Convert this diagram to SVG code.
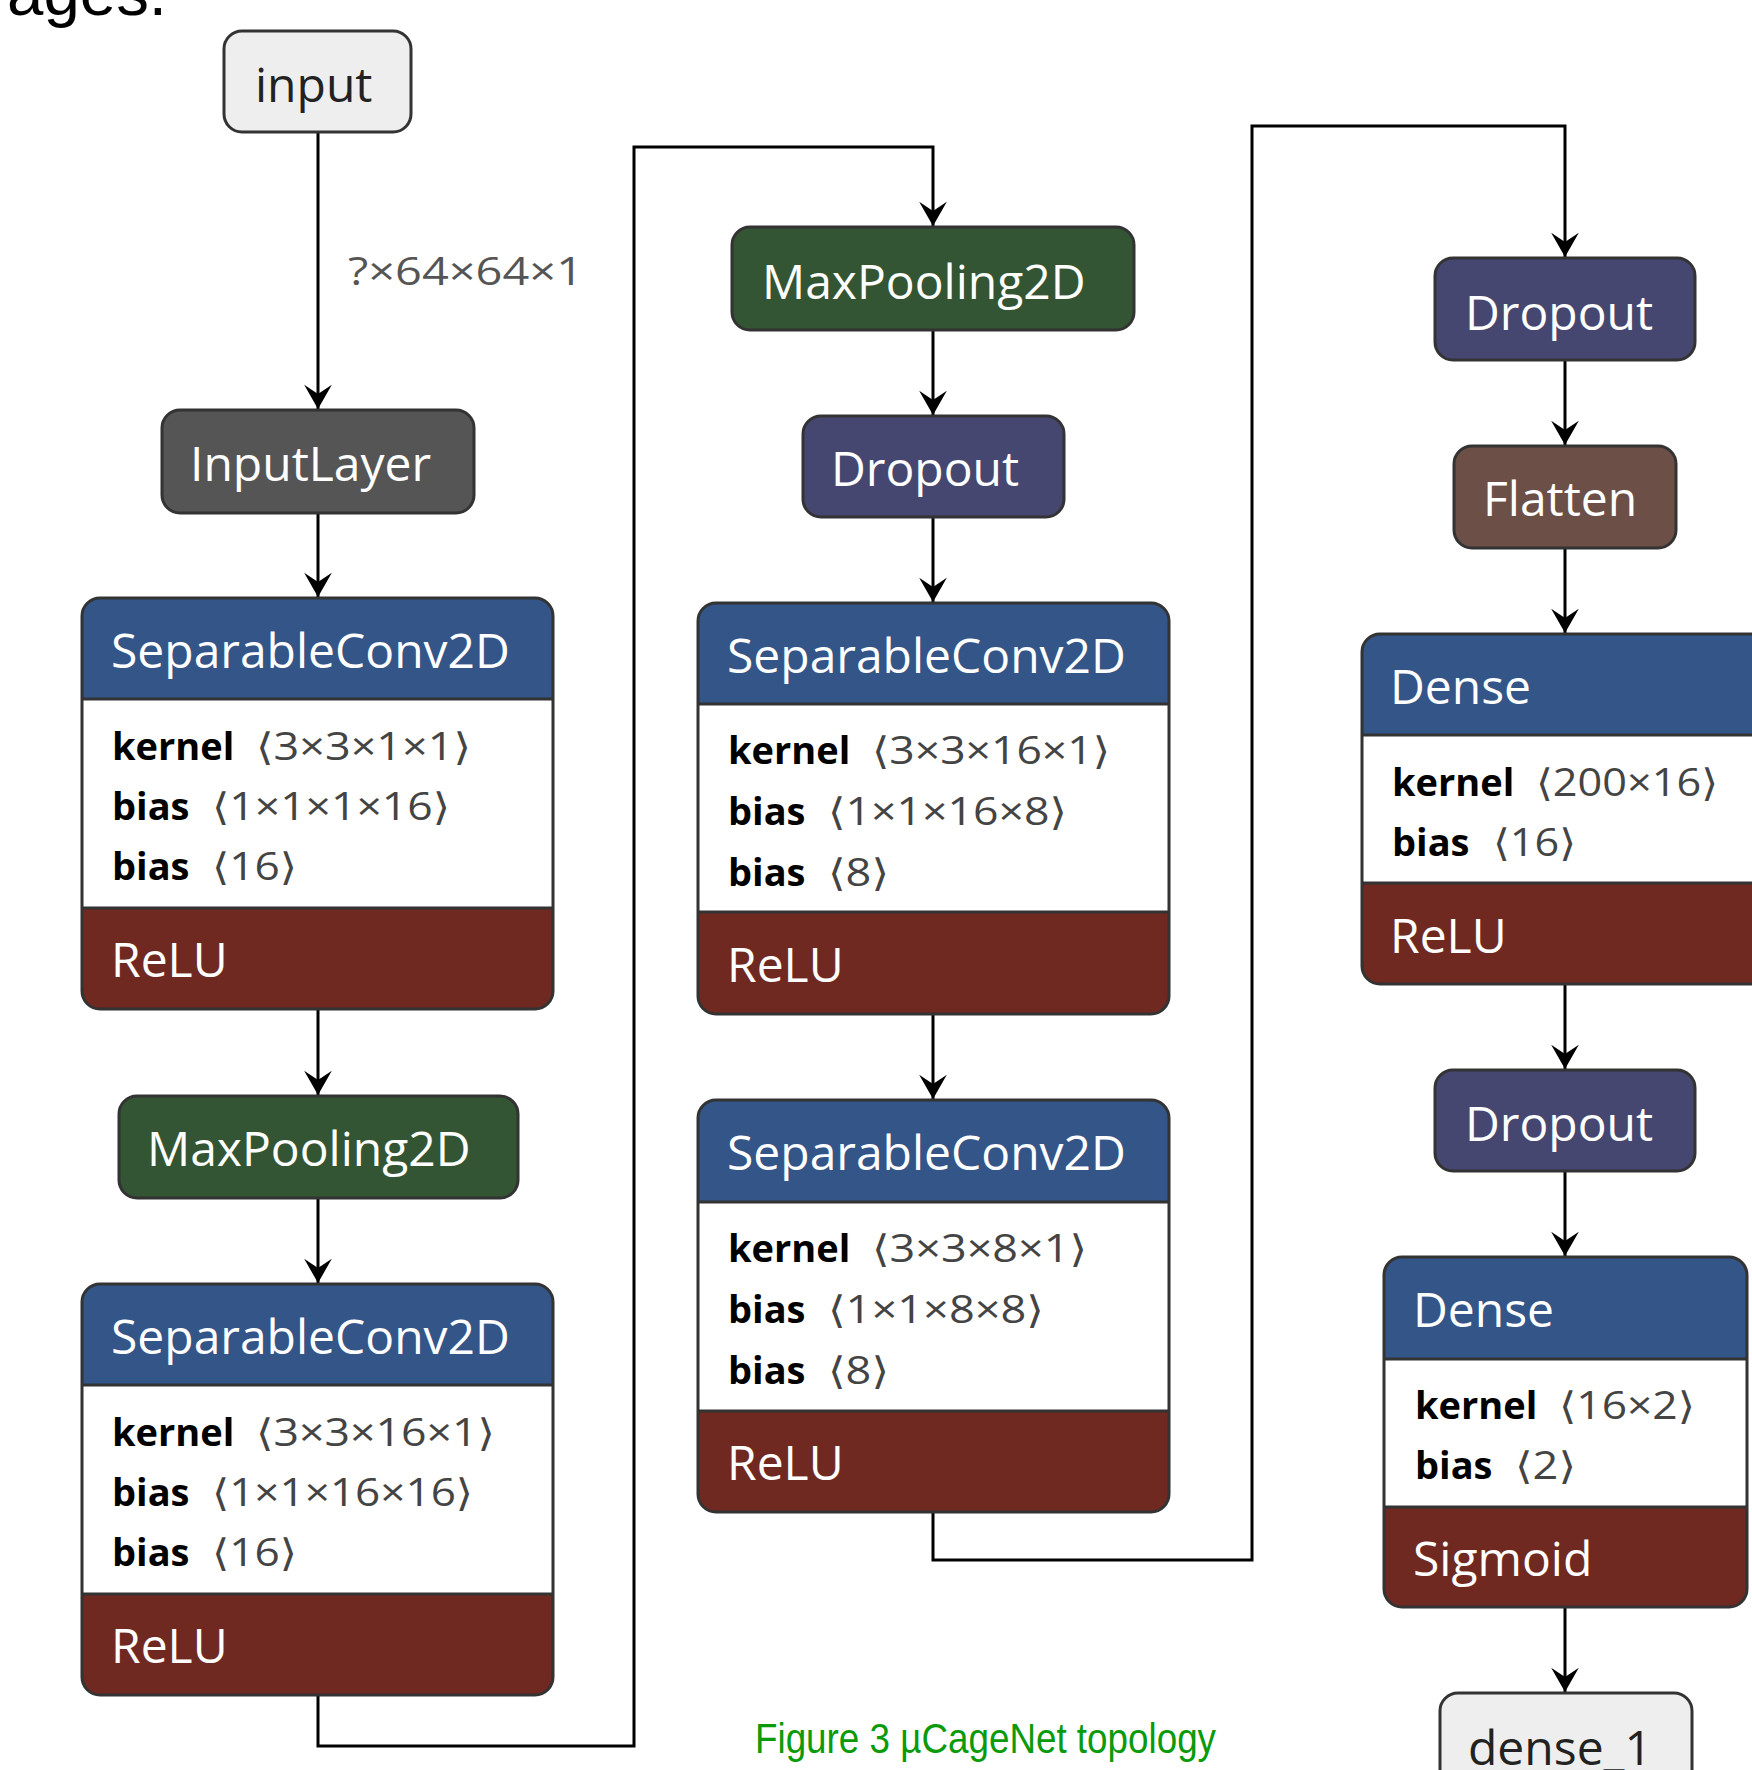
<svg xmlns="http://www.w3.org/2000/svg" width="1752" height="1770" viewBox="0 0 1752 1770">
<defs>
<marker id="arr" markerUnits="userSpaceOnUse" markerWidth="30" markerHeight="30" viewBox="-22 -13 24 26" refX="0" refY="0" orient="auto">
<path d="M-21,-12 L0,0 L-21,12 L-13,0 Z" fill="#000"/>
</marker>
<style>
.edge{fill:none;stroke:#000;stroke-width:3}
.box{stroke:#333;stroke-width:3}
.outline{fill:none;stroke:#333;stroke-width:3}
.sep{stroke:#333;stroke-width:3}
.t{font-family:"Open Sans","Noto Sans","DejaVu Sans",sans-serif;font-size:48px;fill:#fff}
.tdark{font-family:"Open Sans","Noto Sans","DejaVu Sans",sans-serif;font-size:48px;fill:#222}
.an{font-family:"Open Sans","Noto Sans","DejaVu Sans",sans-serif;font-size:38px;font-weight:bold;fill:#000}
.av{font-family:"Open Sans","Noto Sans","DejaVu Sans",sans-serif;font-size:38px;fill:#444}
.lbl{font-family:"Open Sans","Noto Sans","DejaVu Sans",sans-serif;font-size:38px;fill:#555}
.layer{fill:#335588}
.act{fill:#702921}
.white{fill:#fff}
</style>
</defs>
<rect width="1752" height="1770" fill="#fff"/>
<text x="7" y="15" font-family="Liberation Sans, Arial, sans-serif" font-size="64" fill="#000" textLength="160" lengthAdjust="spacingAndGlyphs">ages.</text>

<g id="connectors">
<path class="edge" d="M318,132 V409" marker-end="url(#arr)"/>
<path class="edge" d="M318,513 V597" marker-end="url(#arr)"/>
<path class="edge" d="M318,1009 V1095" marker-end="url(#arr)"/>
<path class="edge" d="M318,1198 V1283" marker-end="url(#arr)"/>
<path class="edge" d="M318,1695 V1746 H634 V147 H933 V226" marker-end="url(#arr)"/>
<path class="edge" d="M933,330 V415" marker-end="url(#arr)"/>
<path class="edge" d="M933,517 V602" marker-end="url(#arr)"/>
<path class="edge" d="M933,1014 V1099" marker-end="url(#arr)"/>
<path class="edge" d="M933,1512 V1560 H1252 V126 H1565 V257" marker-end="url(#arr)"/>
<path class="edge" d="M1565,360 V445" marker-end="url(#arr)"/>
<path class="edge" d="M1565,548 V633" marker-end="url(#arr)"/>
<path class="edge" d="M1565,984 V1069" marker-end="url(#arr)"/>
<path class="edge" d="M1565,1171 V1256" marker-end="url(#arr)"/>
<path class="edge" d="M1565,1607 V1692" marker-end="url(#arr)"/>
<text class="lbl" x="348" y="285" textLength="235" lengthAdjust="spacingAndGlyphs">?×64×64×1</text>
</g>

<g id="node-input">
<rect class="box" x="224" y="31" width="187" height="101" rx="18" fill="#eeeeee"/>
<text class="tdark" x="255" y="102">input</text>
</g>

<g id="node-inputlayer">
<rect class="box" x="162" y="410" width="312" height="103" rx="18" fill="#555555"/>
<text class="t" x="190" y="481">InputLayer</text>
</g>

<g id="node-sepconv1">
<path class="layer" d="M82,699 V616 A18,18 0 0 1 100,598 H535 A18,18 0 0 1 553,616 V699 Z"/>
<rect class="white" x="82" y="699" width="471" height="209"/>
<path class="act" d="M82,908 H553 V991 A18,18 0 0 1 535,1009 H100 A18,18 0 0 1 82,991 Z"/>
<line class="sep" x1="82" y1="699" x2="553" y2="699"/>
<line class="sep" x1="82" y1="908" x2="553" y2="908"/>
<rect class="outline" x="82" y="598" width="471" height="411" rx="18"/>
<text class="t" x="111" y="668">SeparableConv2D</text>
<text class="an" x="112" y="760">kernel</text>
<text class="av" x="256" y="760" textLength="215" lengthAdjust="spacingAndGlyphs">⟨3×3×1×1⟩</text>
<text class="an" x="112" y="820">bias</text>
<text class="av" x="212" y="820" textLength="238" lengthAdjust="spacingAndGlyphs">⟨1×1×1×16⟩</text>
<text class="an" x="112" y="880">bias</text>
<text class="av" x="212" y="880" textLength="85" lengthAdjust="spacingAndGlyphs">⟨16⟩</text>
<text class="t" x="111" y="977">ReLU</text>
</g>

<g id="node-maxpool1">
<rect class="box" x="119" y="1096" width="399" height="102" rx="18" fill="#335533"/>
<text class="t" x="147" y="1166">MaxPooling2D</text>
</g>

<g id="node-sepconv2">
<path class="layer" d="M82,1385 V1302 A18,18 0 0 1 100,1284 H535 A18,18 0 0 1 553,1302 V1385 Z"/>
<rect class="white" x="82" y="1385" width="471" height="209"/>
<path class="act" d="M82,1594 H553 V1677 A18,18 0 0 1 535,1695 H100 A18,18 0 0 1 82,1677 Z"/>
<line class="sep" x1="82" y1="1385" x2="553" y2="1385"/>
<line class="sep" x1="82" y1="1594" x2="553" y2="1594"/>
<rect class="outline" x="82" y="1284" width="471" height="411" rx="18"/>
<text class="t" x="111" y="1354">SeparableConv2D</text>
<text class="an" x="112" y="1446">kernel</text>
<text class="av" x="256" y="1446" textLength="239" lengthAdjust="spacingAndGlyphs">⟨3×3×16×1⟩</text>
<text class="an" x="112" y="1506">bias</text>
<text class="av" x="212" y="1506" textLength="261" lengthAdjust="spacingAndGlyphs">⟨1×1×16×16⟩</text>
<text class="an" x="112" y="1566">bias</text>
<text class="av" x="212" y="1566" textLength="85" lengthAdjust="spacingAndGlyphs">⟨16⟩</text>
<text class="t" x="111" y="1663">ReLU</text>
</g>

<g id="node-maxpool2">
<rect class="box" x="732" y="227" width="402" height="103" rx="18" fill="#335533"/>
<text class="t" x="762" y="299">MaxPooling2D</text>
</g>

<g id="node-dropout1">
<rect class="box" x="803" y="416" width="261" height="101" rx="18" fill="#454770"/>
<text class="t" x="831" y="486">Dropout</text>
</g>

<g id="node-sepconv3">
<path class="layer" d="M698,704 V621 A18,18 0 0 1 716,603 H1151 A18,18 0 0 1 1169,621 V704 Z"/>
<rect class="white" x="698" y="704" width="471" height="208"/>
<path class="act" d="M698,912 H1169 V996 A18,18 0 0 1 1151,1014 H716 A18,18 0 0 1 698,996 Z"/>
<line class="sep" x1="698" y1="704" x2="1169" y2="704"/>
<line class="sep" x1="698" y1="912" x2="1169" y2="912"/>
<rect class="outline" x="698" y="603" width="471" height="411" rx="18"/>
<text class="t" x="727" y="673">SeparableConv2D</text>
<text class="an" x="728" y="764">kernel</text>
<text class="av" x="872" y="764" textLength="238" lengthAdjust="spacingAndGlyphs">⟨3×3×16×1⟩</text>
<text class="an" x="728" y="825">bias</text>
<text class="av" x="828" y="825" textLength="239" lengthAdjust="spacingAndGlyphs">⟨1×1×16×8⟩</text>
<text class="an" x="728" y="886">bias</text>
<text class="av" x="828" y="886" textLength="61" lengthAdjust="spacingAndGlyphs">⟨8⟩</text>
<text class="t" x="727" y="982">ReLU</text>
</g>

<g id="node-sepconv4">
<path class="layer" d="M698,1202 V1118 A18,18 0 0 1 716,1100 H1151 A18,18 0 0 1 1169,1118 V1202 Z"/>
<rect class="white" x="698" y="1202" width="471" height="209"/>
<path class="act" d="M698,1411 H1169 V1494 A18,18 0 0 1 1151,1512 H716 A18,18 0 0 1 698,1494 Z"/>
<line class="sep" x1="698" y1="1202" x2="1169" y2="1202"/>
<line class="sep" x1="698" y1="1411" x2="1169" y2="1411"/>
<rect class="outline" x="698" y="1100" width="471" height="412" rx="18"/>
<text class="t" x="727" y="1170">SeparableConv2D</text>
<text class="an" x="728" y="1262">kernel</text>
<text class="av" x="872" y="1262" textLength="215" lengthAdjust="spacingAndGlyphs">⟨3×3×8×1⟩</text>
<text class="an" x="728" y="1323">bias</text>
<text class="av" x="828" y="1323" textLength="216" lengthAdjust="spacingAndGlyphs">⟨1×1×8×8⟩</text>
<text class="an" x="728" y="1384">bias</text>
<text class="av" x="828" y="1384" textLength="61" lengthAdjust="spacingAndGlyphs">⟨8⟩</text>
<text class="t" x="727" y="1480">ReLU</text>
</g>

<g id="node-dropout2">
<rect class="box" x="1435" y="258" width="260" height="102" rx="18" fill="#454770"/>
<text class="t" x="1465" y="330">Dropout</text>
</g>

<g id="node-flatten">
<rect class="box" x="1454" y="446" width="222" height="102" rx="18" fill="#6c4f47"/>
<text class="t" x="1483" y="516">Flatten</text>
</g>

<g id="node-dense1">
<path class="layer" d="M1362,735 V652 A18,18 0 0 1 1380,634 H1750 A18,18 0 0 1 1768,652 V735 Z"/>
<rect class="white" x="1362" y="735" width="406" height="148"/>
<path class="act" d="M1362,883 H1768 V966 A18,18 0 0 1 1750,984 H1380 A18,18 0 0 1 1362,966 Z"/>
<line class="sep" x1="1362" y1="735" x2="1768" y2="735"/>
<line class="sep" x1="1362" y1="883" x2="1768" y2="883"/>
<rect class="outline" x="1362" y="634" width="406" height="350" rx="18"/>
<text class="t" x="1390" y="704">Dense</text>
<text class="an" x="1392" y="796">kernel</text>
<text class="av" x="1536" y="796" textLength="182" lengthAdjust="spacingAndGlyphs">⟨200×16⟩</text>
<text class="an" x="1392" y="856">bias</text>
<text class="av" x="1493" y="856" textLength="83" lengthAdjust="spacingAndGlyphs">⟨16⟩</text>
<text class="t" x="1390" y="953">ReLU</text>
</g>

<g id="node-dropout3">
<rect class="box" x="1435" y="1070" width="260" height="101" rx="18" fill="#454770"/>
<text class="t" x="1465" y="1141">Dropout</text>
</g>

<g id="node-dense2">
<path class="layer" d="M1384,1359 V1275 A18,18 0 0 1 1402,1257 H1729 A18,18 0 0 1 1747,1275 V1359 Z"/>
<rect class="white" x="1384" y="1359" width="363" height="148"/>
<path class="act" d="M1384,1507 H1747 V1589 A18,18 0 0 1 1729,1607 H1402 A18,18 0 0 1 1384,1589 Z"/>
<line class="sep" x1="1384" y1="1359" x2="1747" y2="1359"/>
<line class="sep" x1="1384" y1="1507" x2="1747" y2="1507"/>
<rect class="outline" x="1384" y="1257" width="363" height="350" rx="18"/>
<text class="t" x="1413" y="1327">Dense</text>
<text class="an" x="1415" y="1419">kernel</text>
<text class="av" x="1559" y="1419" textLength="136" lengthAdjust="spacingAndGlyphs">⟨16×2⟩</text>
<text class="an" x="1415" y="1479">bias</text>
<text class="av" x="1515" y="1479" textLength="61" lengthAdjust="spacingAndGlyphs">⟨2⟩</text>
<text class="t" x="1413" y="1576">Sigmoid</text>
</g>

<g id="node-dense_1">
<rect class="box" x="1440" y="1693" width="252" height="110" rx="18" fill="#eeeeee"/>
<text class="tdark" x="1468" y="1765">dense_1</text>
</g>

<text x="755" y="1753" font-family="Liberation Sans Narrow, Liberation Sans, Arial, sans-serif" font-size="42" fill="#0a9a0a" textLength="461" lengthAdjust="spacingAndGlyphs">Figure 3 µCageNet topology</text>
</svg>
